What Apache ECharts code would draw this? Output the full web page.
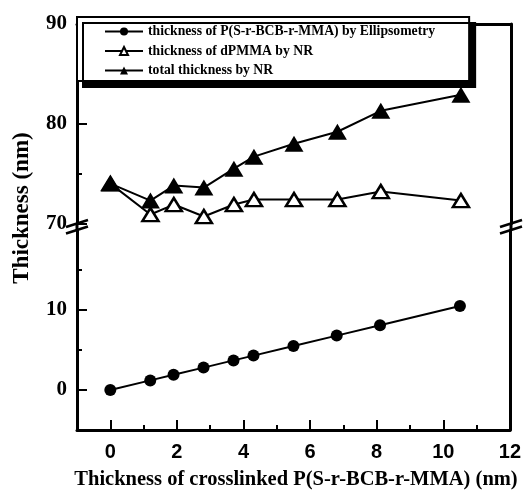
<!DOCTYPE html>
<html><head><meta charset="utf-8">
<script src="https://cdn.jsdelivr.net/npm/echarts@6/dist/echarts.min.js"></script>
<style>html,body{margin:0;padding:0;background:#fff}#c{width:524px;height:494px}</style>
</head><body><div id="c"></div>
<script>
// ---- data ----
const crosslinkedThickness = [0, 1.2, 1.9, 2.8, 3.7, 4.3, 5.5, 6.8, 8.1, 10.5];
const ellipsometryThickness = [0, 1.2, 1.9, 2.8, 3.7, 4.3, 5.5, 6.8, 8.1, 10.5];
const dPMMAThickness = [74.0, 70.9, 71.9, 70.7, 71.9, 72.4, 72.4, 72.4, 73.2, 72.3];
const totalThickness = [74.0, 72.3, 73.8, 73.6, 75.5, 76.7, 78.0, 79.2, 81.3, 82.9];
const seriesNames = ['thickness of P(S-r-BCB-r-MMA) by Ellipsometry', 'thickness of dPMMA by NR', 'total thickness by NR'];
const xMajorTicks = [0, 2, 4, 6, 8, 10, 12];
const xMinorTicks = [1, 3, 5, 7, 9, 11];
const yLowerMajorTicks = [0, 10];
const yLowerMinorTicks = [5, 15];
const xTitle = 'Thickness of crosslinked P(S-r-BCB-r-MMA) (nm)';
const yTitle = 'Thickness (nm)';

// ---- layout ----
const L = 77, R = 511, TOP = 24, BRK_UP = 223.5, BRK_LO = 230, BOT = 430;
const SERIF = 'Liberation Serif';
const SANS = 'Liberation Sans';
const AXW = 3;

const zip = (xs, ys) => xs.map((x, i) => [x, ys[i]]);
const lineOnly = { show: true, onZero: false, lineStyle: { color: '#000', width: AXW } };
const noLine = { show: false, onZero: false };

const chart = echarts.init(document.getElementById('c'), null, { renderer: 'canvas' });

function slash(cx, cy) {
  return { type: 'line', shape: { x1: cx - 11, y1: cy + 3.5, x2: cx + 11, y2: cy - 3.5 },
           style: { stroke: '#000', lineWidth: 2.5 }, z: 10 };
}

chart.setOption({
  animation: false,
  backgroundColor: '#fff',
  grid: [
    { left: L, top: TOP, width: R - L, height: BRK_UP - TOP },
    { left: L, top: BRK_LO, width: R - L, height: BOT - BRK_LO }
  ],
  xAxis: [
    { gridIndex: 0, type: 'value', position: 'top', min: -1, max: 12,
      axisLine: lineOnly, axisTick: { show: false }, axisLabel: { show: false }, splitLine: { show: false } },
    { gridIndex: 1, type: 'value', position: 'bottom', min: -1, max: 12,
      axisLine: lineOnly,
      axisTick: { show: true, inside: true, length: 10, lineStyle: { color: '#000', width: 2 }, customValues: xMajorTicks },
      axisLabel: { show: true, customValues: xMajorTicks, margin: 12, color: '#000',
                   fontFamily: SANS, fontWeight: 'bold', fontSize: 20 },
      splitLine: { show: false } },
    { gridIndex: 1, type: 'value', position: 'bottom', min: -1, max: 12,
      axisLine: noLine,
      axisTick: { show: true, inside: true, length: 5, lineStyle: { color: '#000', width: 2 }, customValues: xMinorTicks },
      axisLabel: { show: false }, splitLine: { show: false } }
  ],
  yAxis: [
    { gridIndex: 0, type: 'value', position: 'left', min: 70, max: 90, interval: 10,
      axisLine: lineOnly,
      axisTick: { show: true, inside: true, length: 10, lineStyle: { color: '#000', width: 2 } },
      minorTick: { show: true, splitNumber: 2, length: 5, lineStyle: { color: '#000', width: 2 } },
      axisLabel: { show: true, margin: 10, color: '#000', fontFamily: SERIF, fontWeight: 'bold', fontSize: 21 },
      splitLine: { show: false }, minorSplitLine: { show: false } },
    { gridIndex: 0, type: 'value', position: 'right', min: 70, max: 90,
      axisLine: lineOnly, axisTick: { show: false }, axisLabel: { show: false }, splitLine: { show: false } },
    { gridIndex: 1, type: 'value', position: 'left', min: -5, max: 20,
      axisLine: lineOnly,
      axisTick: { show: true, inside: true, length: 10, lineStyle: { color: '#000', width: 2 }, customValues: yLowerMajorTicks },
      axisLabel: { show: true, customValues: yLowerMajorTicks, margin: 10, color: '#000',
                   fontFamily: SERIF, fontWeight: 'bold', fontSize: 21 },
      splitLine: { show: false } },
    { gridIndex: 1, type: 'value', position: 'left', min: -5, max: 20,
      axisLine: noLine,
      axisTick: { show: true, inside: true, length: 5, lineStyle: { color: '#000', width: 2 }, customValues: yLowerMinorTicks },
      axisLabel: { show: false }, splitLine: { show: false } },
    { gridIndex: 1, type: 'value', position: 'right', min: -5, max: 20,
      axisLine: lineOnly, axisTick: { show: false }, axisLabel: { show: false }, splitLine: { show: false } }
  ],
  legend: {
    orient: 'vertical', left: L, top: 17,
    data: seriesNames,
    selectedMode: false,
    itemWidth: 38, itemHeight: 10, itemGap: 5.5,
    padding: [7.5, 34, 3.5, 27],
    backgroundColor: '#fff', borderColor: '#000', borderWidth: 2,
    shadowColor: '#000', shadowBlur: 0, shadowOffsetX: 6, shadowOffsetY: 6,
    textStyle: { fontFamily: SERIF, fontWeight: 'bold', fontSize: 13.7, color: '#000', lineHeight: 13 }
  },
  series: [
    { name: seriesNames[0], type: 'line', xAxisIndex: 1, yAxisIndex: 2,
      data: zip(crosslinkedThickness, ellipsometryThickness),
      symbol: 'circle', symbolSize: 12, showAllSymbol: true,
      itemStyle: { color: '#000' }, lineStyle: { color: '#000', width: 2 } },
    { name: seriesNames[1], type: 'line', xAxisIndex: 0, yAxisIndex: 0,
      data: zip(crosslinkedThickness, dPMMAThickness),
      symbol: 'triangle', symbolSize: [16, 13], showAllSymbol: true,
      itemStyle: { color: '#fff', borderColor: '#000', borderWidth: 2.5 }, lineStyle: { color: '#000', width: 2 } },
    { name: seriesNames[2], type: 'line', xAxisIndex: 0, yAxisIndex: 0,
      data: zip(crosslinkedThickness, totalThickness),
      symbol: 'triangle', symbolSize: [19, 16], showAllSymbol: true,
      itemStyle: { color: '#000' }, lineStyle: { color: '#000', width: 2 } }
  ],
  graphic: [
    { type: 'line', shape: { x1: L, y1: BRK_UP, x2: L, y2: BRK_LO }, style: { stroke: '#000', lineWidth: AXW } },
    { type: 'line', shape: { x1: R, y1: BRK_UP, x2: R, y2: BRK_LO }, style: { stroke: '#000', lineWidth: AXW } },
    slash(L, BRK_UP), slash(L, BRK_LO), slash(R, BRK_UP), slash(R, BRK_LO),
    { type: 'text', x: 296, y: 480,
      style: { text: xTitle, fill: '#000', font: 'bold 20.5px "Liberation Serif"', textAlign: 'center', textVerticalAlign: 'middle' } },
    { type: 'text', x: 22.5, y: 208, rotation: Math.PI / 2,
      style: { text: yTitle, fill: '#000', font: 'bold 23px "Liberation Serif"', textAlign: 'center', textVerticalAlign: 'middle' } }
  ]
});
</script>
</body></html>
